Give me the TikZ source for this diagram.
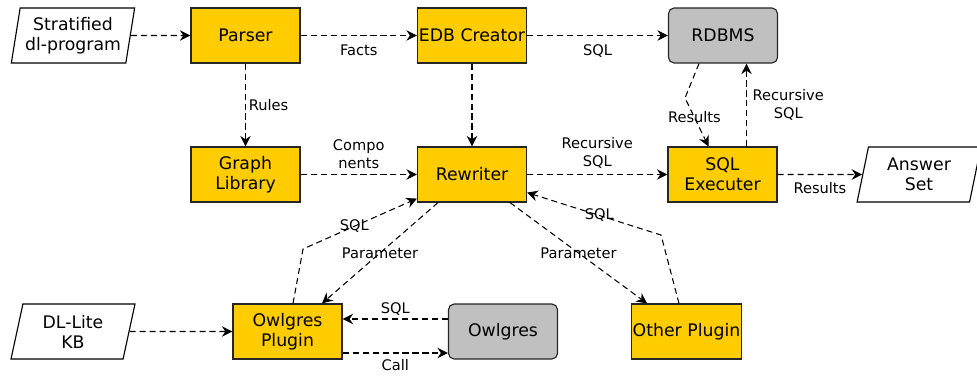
\documentclass[tikz,border=0pt]{standalone}
\usepackage{fontspec}
\setmainfont{DejaVu Sans}
\usetikzlibrary{shapes.geometric,arrows.meta,calc}
\definecolor{procyellow}{HTML}{FFCC00}
\definecolor{dbgray}{HTML}{C0C0C0}
\tikzset{
    proc/.style={rectangle, draw=black!85, fill=procyellow, line width=0.8pt, minimum width=2.725cm, minimum height=1.375cm, align=center, inner sep=1pt, font=\fontsize{12.3}{14.2}\selectfont},
    dbase/.style={proc, fill=dbgray, rounded corners=4pt},
    inout/.style={trapezium, trapezium left angle=77.7, trapezium right angle=102.3, trapezium stretches=true, draw=black, fill=white, line width=0.8pt, minimum width=3.1cm, minimum height=1.375cm, align=center, inner sep=0pt, font=\fontsize{12.3}{14.2}\selectfont},
    flow/.style={dash pattern=on 4.3pt off 2.8pt, line width=0.75pt, -{Stealth[length=7.5pt,width=7.5pt,inset=2.5pt]}},
    lbl/.style={font=\fontsize{10.4}{12.8}\selectfont, align=center, inner sep=1pt}
}
\begin{document}
            \begin{tikzpicture}[x=0.025cm, y=-0.025cm]
                \useasboundingbox (0,0) rectangle (977,376);

                \node [inout] (strat) at (73,35.5) {Stratified\\dl-program};
                \node [proc] (parser) at (245.5,35.5) {Parser};
                \node [proc] (edb) at (472,35.5) {EDB Creator};
                \node [dbase] (rdbms) at (723,35.5) {RDBMS};
                \node [proc] (graph) at (245.5,174.5) {Graph\\Library};
                \node [proc] (rewriter) at (472,174.5) {Rewriter};
                \node [proc] (sqlexec) at (722.5,174.5) {SQL\\Executer};
                \node [inout] (answer) at (919,174.5) {Answer\\Set};
                \node [inout] (dllite) at (73,331.5) {DL-Lite\\KB};
                \node [proc] (owlplug) at (287.5,331.5) {Owlgres\\Plugin};
                \node [dbase] (owlgres) at (503,331.5) {Owlgres};
                \node [proc] (other) at (686.5,331.5) {Other Plugin};

                \coordinate (resbend) at (685,98);
                \coordinate (owlbend) at (303,249);
                \coordinate (othbend) at (661,235);

                \draw[flow] (strat) -- (parser);
                \draw[flow] (parser) -- node[lbl, below=5pt] {Facts} (edb);
                \draw[flow] (edb) -- node[lbl, below=5pt] {SQL} (rdbms);
                \draw[flow] (parser) -- node[lbl, right=1pt] {Rules} (graph);
                \draw[flow] (edb) -- (rewriter);
                \draw[flow] (graph) -- node[lbl, above=3pt] {Compo\\nents} (rewriter);
                \draw[flow] (rewriter) -- node[lbl, above=3pt] {Recursive\\SQL} (sqlexec);
                \draw[flow] (sqlexec) -- node[lbl, below=4pt] {Results} (answer);

                \draw[flow] ($(rdbms.south)+(-24,0)$) -- (resbend) -- node[lbl, pos=0.4] {Results} ($(sqlexec.north)+(-14,0)$);
                \draw[flow] ($(sqlexec.north)+(24,0)$) -- node[lbl, right=3pt] {Recursive\\SQL} ($(rdbms.south)+(23.5,0)$);

                \draw[flow] ($(rewriter.south)+(-34,0)$) -- node[lbl] {Parameter} ($(owlplug.north)+(34.5,0)$);
                \draw[flow] ($(owlplug.north)+(5.5,0)$) -- (owlbend) -- node[lbl, pos=0.45] {SQL} ($(rewriter.south west)+(0,-4)$);
                \draw[flow] ($(rewriter.south)+(38,0)$) -- node[lbl] {Parameter} ($(other.north)+(-39.5,0)$);
                \draw[flow] ($(other.north)+(-7.5,0)$) -- (othbend) -- node[lbl, pos=0.46] {SQL} ($(rewriter.south east)+(0,-10)$);

                \draw[flow] (dllite) -- (owlplug);
                \draw[flow] ($(owlgres.west)+(0,-12.5)$) -- node[lbl, above=1pt] {SQL} ($(owlplug.east)+(0,-12.5)$);
                \draw[flow] ($(owlplug.east)+(0,21.5)$) -- node[lbl, below=3pt] {Call} ($(owlgres.west)+(0,21.5)$);
            \end{tikzpicture}
\end{document}
